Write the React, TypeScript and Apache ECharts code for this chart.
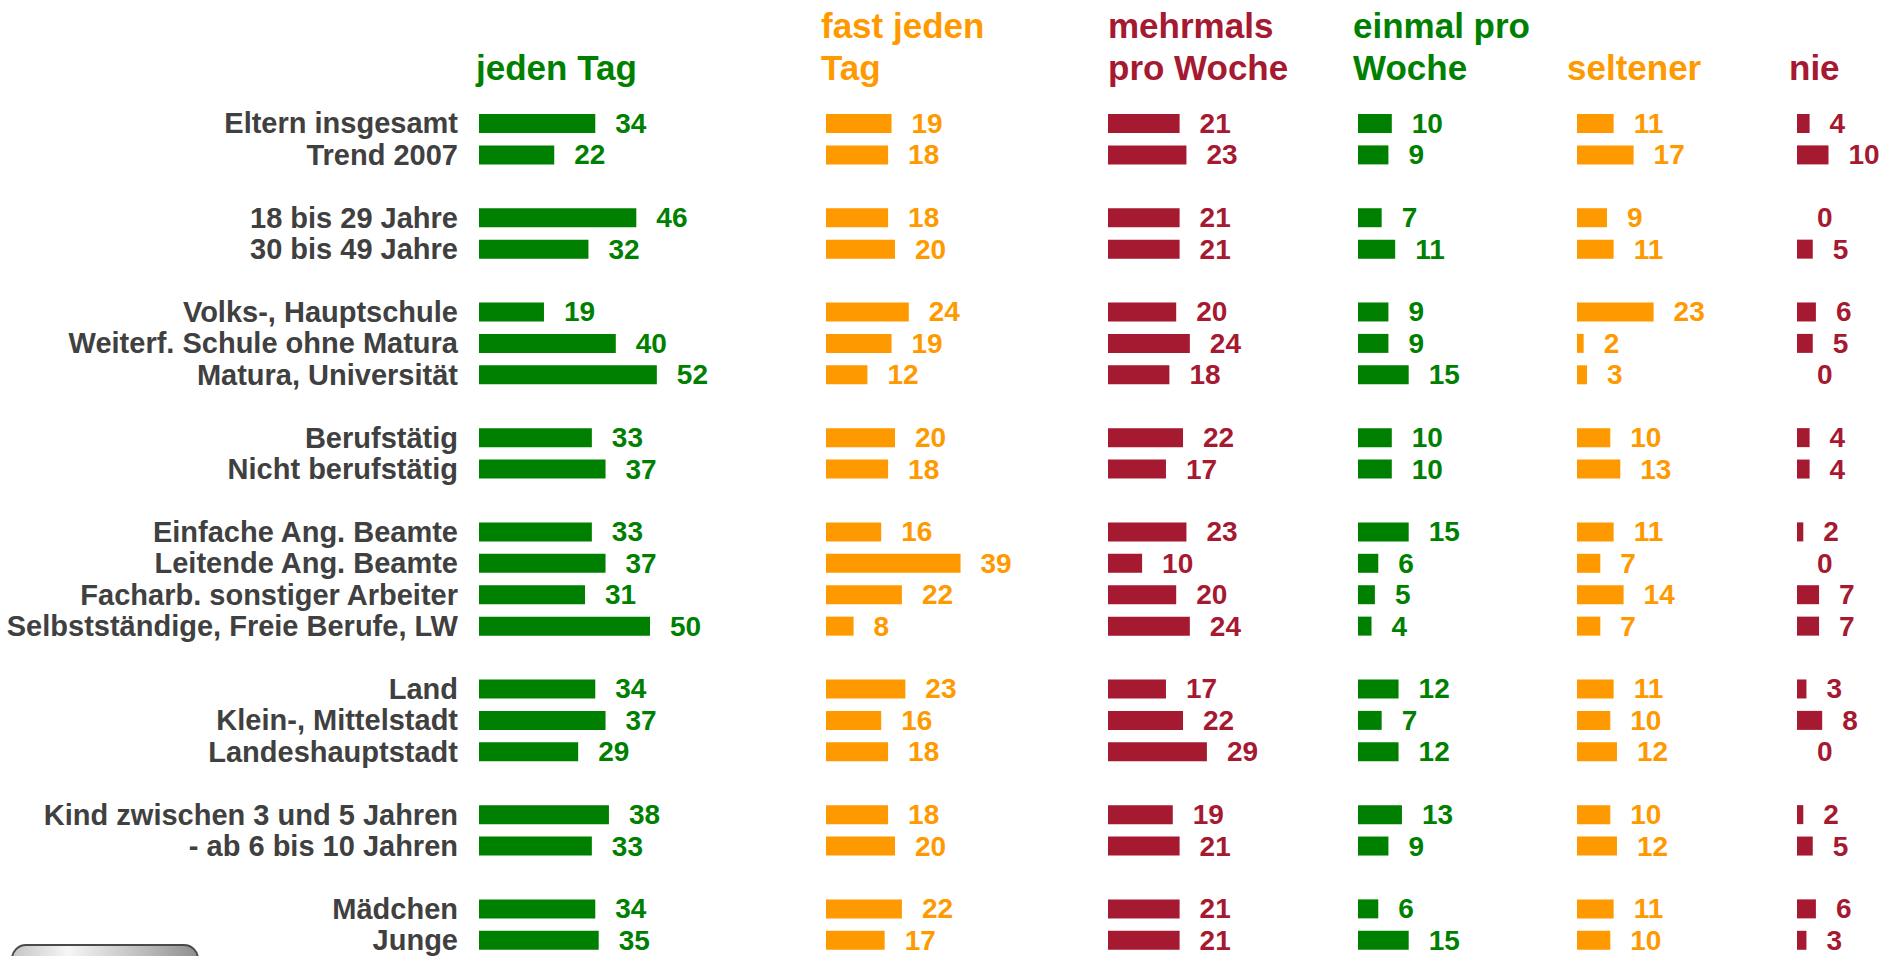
import React, { useEffect, useRef } from "react";
import * as echarts from "echarts";

const categories = [
  "Eltern insgesamt", "Trend 2007", " ",
  "18 bis 29 Jahre", "30 bis 49 Jahre", "  ",
  "Volks-, Hauptschule", "Weiterf. Schule ohne Matura", "Matura, Universität", "   ",
  "Berufstätig", "Nicht berufstätig", "    ",
  "Einfache Ang. Beamte", "Leitende Ang. Beamte", "Facharb. sonstiger Arbeiter", "Selbstständige, Freie Berufe, LW", "     ",
  "Land", "Klein-, Mittelstadt", "Landeshauptstadt", "      ",
  "Kind zwischen 3 und 5 Jahren", "- ab 6 bis 10 Jahren", "       ",
  "Mädchen", "Junge",
];

const N = null;
const jedenTag = [34, 22, N, 46, 32, N, 19, 40, 52, N, 33, 37, N, 33, 37, 31, 50, N, 34, 37, 29, N, 38, 33, N, 34, 35];
const fastJedenTag = [19, 18, N, 18, 20, N, 24, 19, 12, N, 20, 18, N, 16, 39, 22, 8, N, 23, 16, 18, N, 18, 20, N, 22, 17];
const mehrmalsProWoche = [21, 23, N, 21, 21, N, 20, 24, 18, N, 22, 17, N, 23, 10, 20, 24, N, 17, 22, 29, N, 19, 21, N, 21, 21];
const einmalProWoche = [10, 9, N, 7, 11, N, 9, 9, 15, N, 10, 10, N, 15, 6, 5, 4, N, 12, 7, 12, N, 13, 9, N, 6, 15];
const seltener = [11, 17, N, 9, 11, N, 23, 2, 3, N, 10, 13, N, 11, 7, 14, 7, N, 11, 10, 12, N, 10, 12, N, 11, 10];
const nie = [4, 10, N, 0, 5, N, 6, 5, 0, N, 4, 4, N, 2, 0, 7, 7, N, 3, 8, 0, N, 2, 5, N, 6, 3];

const headers = ["jeden\u00a0Tag", "fast jeden\nTag", "mehrmals\npro Woche", "einmal pro\nWoche", "seltener", "nie"];

const GREEN = "#008000";
const ORANGE = "#FF9900";
const RED = "#A51931";
const FONT = "'Liberation Sans', Arial, Helvetica, sans-serif";

export default function App() {
  const ref = useRef<HTMLDivElement>(null);

  useEffect(() => {
    document.body.style.margin = "0";
    if (!ref.current) return;
    const chart = echarts.init(ref.current, undefined, { renderer: "svg" });

    const seriesData = [jedenTag, fastJedenTag, mehrmalsProWoche, einmalProWoche, seltener, nie];
    const colors = [GREEN, ORANGE, RED, GREEN, ORANGE, RED];
    const lefts = [479, 826, 1108, 1358, 1577, 1797];
    const unit = [3.42, 3.45, 3.41, 3.38, 3.33, 3.15];
    const maxV = [60, 45, 35, 20, 25, 15];
    const headerX = [476, 821, 1108, 1353, 1567, 1789];
    const slot = 31.46;
    const top = 123.5 - slot / 2;
    const height = slot * categories.length;

    const grid = lefts.map((l, i) => ({
      left: l,
      top,
      width: unit[i] * maxV[i],
      height,
      containLabel: false,
    }));

    const xAxis = lefts.map((_, i) => ({
      type: "value",
      gridIndex: i,
      min: 0,
      max: maxV[i],
      show: false,
    }));

    const yAxis = lefts.map((_, i) => ({
      type: "category",
      gridIndex: i,
      data: categories,
      inverse: true,
      show: i === 0,
      axisLine: { show: false },
      axisTick: { show: false },
      splitLine: { show: false },
      axisLabel: {
        show: i === 0,
        interval: 0,
        margin: 21,
        color: "#404040",
        fontSize: 29,
        fontWeight: "bold",
        fontFamily: FONT,
      },
    }));

    const series = seriesData.map((d, i) => ({
      type: "bar",
      xAxisIndex: i,
      yAxisIndex: i,
      data: d,
      barWidth: 19,
      clip: false,
      itemStyle: { color: colors[i] },
      label: {
        show: true,
        position: "right",
        distance: 20,
        color: colors[i],
        fontSize: 28,
        fontWeight: "bold",
        fontFamily: FONT,
      },
    }));

    const graphic: any[] = headers.map((h, i) => {
      const twoLines = h.includes("\n");
      return {
        type: "text",
        left: headerX[i],
        top: twoLines ? 4 : 46,
        style: {
          text: h,
          fill: colors[i],
          font: `bold 35px ${FONT}`,
          lineHeight: 42,
        },
      };
    });

    graphic.push({
      type: "rect",
      shape: { x: 12, y: 945, width: 186, height: 40, r: 14 },
      style: {
        fill: new echarts.graphic.LinearGradient(0, 0, 1, 0, [
          { offset: 0, color: "#c4c4c4" },
          { offset: 0.3, color: "#f6f6f6" },
          { offset: 0.7, color: "#bdbdbd" },
          { offset: 1, color: "#8e8e8e" },
        ]),
        stroke: "#4a4a4a",
        lineWidth: 2,
      },
    });

    chart.setOption({
      animation: false,
      backgroundColor: "#ffffff",
      grid,
      xAxis,
      yAxis,
      series,
      graphic,
    });

    return () => chart.dispose();
  }, []);

  return <div ref={ref} style={{ position: "fixed", left: 0, top: 0, width: 1883, height: 956 }} />;
}
